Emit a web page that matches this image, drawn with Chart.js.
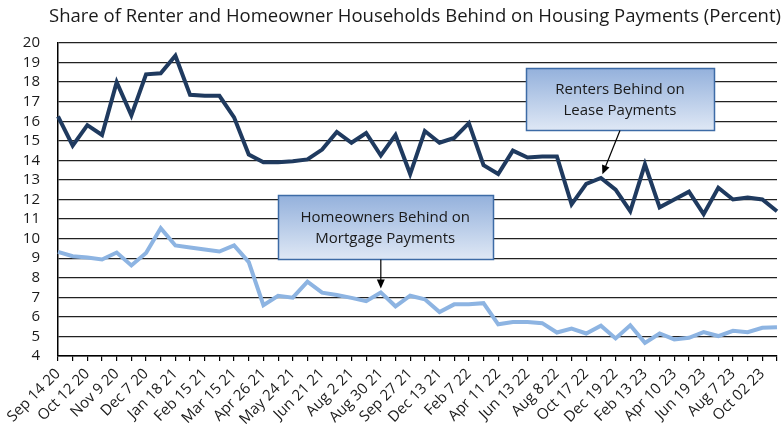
<!DOCTYPE html>
<html>
<head>
<meta charset="utf-8">
<script src="https://cdn.jsdelivr.net/npm/chart.js@4.4.1/dist/chart.umd.min.js"></script>
<style>
  html, body { margin: 0; padding: 0; background: #fff; }
  #wrap { width: 784px; height: 428px; }
</style>
</head>
<body>
<div id="wrap"><canvas id="payChart" width="784" height="428"></canvas></div>
<script>
const weeks = [
    "Sep 14 20", "Sep 28 20", "Oct 12 20", "Oct 26 20", "Nov 9 20", "Nov 23 20",
    "Dec 7 20", "Dec 21 20", "Jan 18 21", "Feb 1 21", "Feb 15 21", "Mar 1 21",
    "Mar 15 21", "Mar 29 21", "Apr 26 21", "May 10 21", "May 24 21", "Jun 7 21",
    "Jun 21 21", "Jul 5 21", "Aug 2 21", "Aug 16 21", "Aug 30 21", "Sep 13 21",
    "Sep 27 21", "Oct 11 21", "Dec 13 21", "Jan 10 22", "Feb 7 22", "Mar 14 22",
    "Apr 11 22", "May 9 22", "Jun 13 22", "Jul 11 22", "Aug 8 22", "Sep 26 22",
    "Oct 17 22", "Nov 14 22", "Dec 19 22", "Jan 16 23", "Feb 13 23", "Mar 13 23",
    "Apr 10 23", "May 8 23", "Jun 19 23", "Jul 10 23", "Aug 7 23", "Sep 4 23",
    "Oct 02 23", "Oct 30 23"
];

const renters = [
    16.25, 14.75, 15.8, 15.3, 18.0, 16.3, 18.4, 18.45, 19.35, 17.35,
    17.3, 17.3, 16.2, 14.3, 13.9, 13.9, 13.95, 14.05, 14.55, 15.45,
    14.9, 15.4, 14.25, 15.3, 13.3, 15.5, 14.9, 15.15, 15.9, 13.75,
    13.3, 14.5, 14.15, 14.2, 14.2, 11.75, 12.8, 13.1, 12.5, 11.4,
    13.8, 11.6, 12.0, 12.4, 11.25, 12.6, 12.0, 12.1, 12.0, 11.4
];

const owners = [
    9.32, 9.1, 9.03, 8.93, 9.29, 8.63, 9.27, 10.53, 9.65, 9.55,
    9.44, 9.34, 9.65, 8.8, 6.6, 7.08, 6.98, 7.8, 7.24, 7.12,
    6.97, 6.8, 7.25, 6.54, 7.08, 6.9, 6.25, 6.64, 6.64, 6.7,
    5.62, 5.74, 5.74, 5.68, 5.2, 5.4, 5.15, 5.55, 4.9, 5.57,
    4.67, 5.15, 4.85, 4.93, 5.22, 5.02, 5.29, 5.22, 5.44, 5.47
];

const yMin = 4;
const yMax = 20;

const title = "Share of Renter and Homeowner Households Behind on Housing Payments (Percent)";

// callout boxes, placed in data units; arrow points at a data point of a series
const notes = [
    { lines: ["Renters Behind on", "Lease Payments"], at: 38.3, val: 17.12, w: 188, h: 62,
      tail: 38.3, series: renters, point: 37 },
    { lines: ["Homeowners Behind on", "Mortgage Payments"], at: 22.3, val: 10.6, w: 215, h: 64,
      tail: 22.0, series: owners, point: 22 }
];

const font = '"Open Sans", "Noto Sans", sans-serif';

const decor = {
    id: 'decor',
    afterDatasetsDraw(chart) {
        const ctx = chart.ctx;
        const x = chart.scales.x, y = chart.scales.y;
        ctx.save();

        // title
        ctx.fillStyle = '#1a1a1a';
        ctx.font = '18.5px ' + font;
        ctx.textAlign = 'center';
        ctx.textBaseline = 'alphabetic';
        ctx.fillText(title, 415, 22);

        notes.forEach(n => {
            const cx = x.getPixelForValue(n.at);
            const cy = y.getPixelForValue(n.val);
            const left = Math.round(cx - n.w / 2) + 0.5;
            const top = Math.round(cy - n.h / 2) + 0.5;

            const g = ctx.createLinearGradient(0, top, 0, top + n.h);
            g.addColorStop(0, '#94b1dc');
            g.addColorStop(1, '#dfe8f5');
            ctx.fillStyle = g;
            ctx.fillRect(left, top, n.w, n.h);
            ctx.strokeStyle = '#3d6ba6';
            ctx.lineWidth = 1.5;
            ctx.strokeRect(left, top, n.w, n.h);

            ctx.fillStyle = '#1a1a1a';
            ctx.font = '15px ' + font;
            ctx.textAlign = 'center';
            ctx.textBaseline = 'middle';
            ctx.fillText(n.lines[0], cx, top + n.h / 2 - 10);
            ctx.fillText(n.lines[1], cx, top + n.h / 2 + 11);

            // arrow
            const sx = x.getPixelForValue(n.tail);
            const sy = top + n.h;
            const px = x.getPixelForValue(n.point);
            const py = y.getPixelForValue(n.series[n.point]);
            const dx = px - sx, dy = py - sy;
            const len = Math.sqrt(dx * dx + dy * dy);
            const ux = dx / len, uy = dy / len;
            const ex = px - ux * 4, ey = py - uy * 4;
            ctx.strokeStyle = '#000';
            ctx.lineWidth = 1.2;
            ctx.beginPath();
            ctx.moveTo(sx, sy);
            ctx.lineTo(ex - ux * 6, ey - uy * 6);
            ctx.stroke();
            ctx.fillStyle = '#000';
            ctx.beginPath();
            ctx.moveTo(ex, ey);
            ctx.lineTo(ex - ux * 9 - uy * 4, ey - uy * 9 + ux * 4);
            ctx.lineTo(ex - ux * 9 + uy * 4, ey - uy * 9 - ux * 4);
            ctx.closePath();
            ctx.fill();
        });
        ctx.restore();
    }
};

new Chart(document.getElementById('payChart'), {
    type: 'line',
    data: {
        labels: weeks,
        datasets: [
            {
                label: 'Homeowners Behind on Mortgage Payments',
                data: owners,
                borderColor: '#8db4e2',
                borderWidth: 4,
                pointRadius: 0,
                tension: 0
            },
            {
                label: 'Renters Behind on Lease Payments',
                data: renters,
                borderColor: '#1f3a5f',
                borderWidth: 4,
                pointRadius: 0,
                tension: 0
            }
        ]
    },
    options: {
        responsive: false,
        animation: false,
        layout: { padding: { top: 43, right: 7, left: 0, bottom: 0 } },
        plugins: {
            legend: { display: false },
            tooltip: { enabled: false }
        },
        scales: {
            x: {
                offset: false,
                afterFit: s => {
                    s.height = 72;
                    s.paddingLeft = 0;
                    s.paddingRight = 0;
                },
                border: { color: '#000', width: 1.5 },
                grid: { drawOnChartArea: false, drawTicks: true, tickLength: 5, color: '#000', lineWidth: 1.2 },
                ticks: {
                    autoSkip: false,
                    minRotation: 45,
                    maxRotation: 45,
                    padding: 4,
                    color: '#1a1a1a',
                    font: { family: font, size: 15 },
                    callback: (v, i) => (i % 2 === 0 ? weeks[i] : '')
                }
            },
            y: {
                min: yMin,
                max: yMax,
                afterFit: s => { s.width = 58; },
                border: { color: '#000', width: 1.5 },
                grid: { color: '#222', lineWidth: 1.3, drawTicks: false },
                ticks: {
                    stepSize: 1,
                    autoSkip: false,
                    padding: 18,
                    color: '#1a1a1a',
                    font: { family: font, size: 15 }
                }
            }
        }
    },
    plugins: [decor]
});
</script>
</body>
</html>
